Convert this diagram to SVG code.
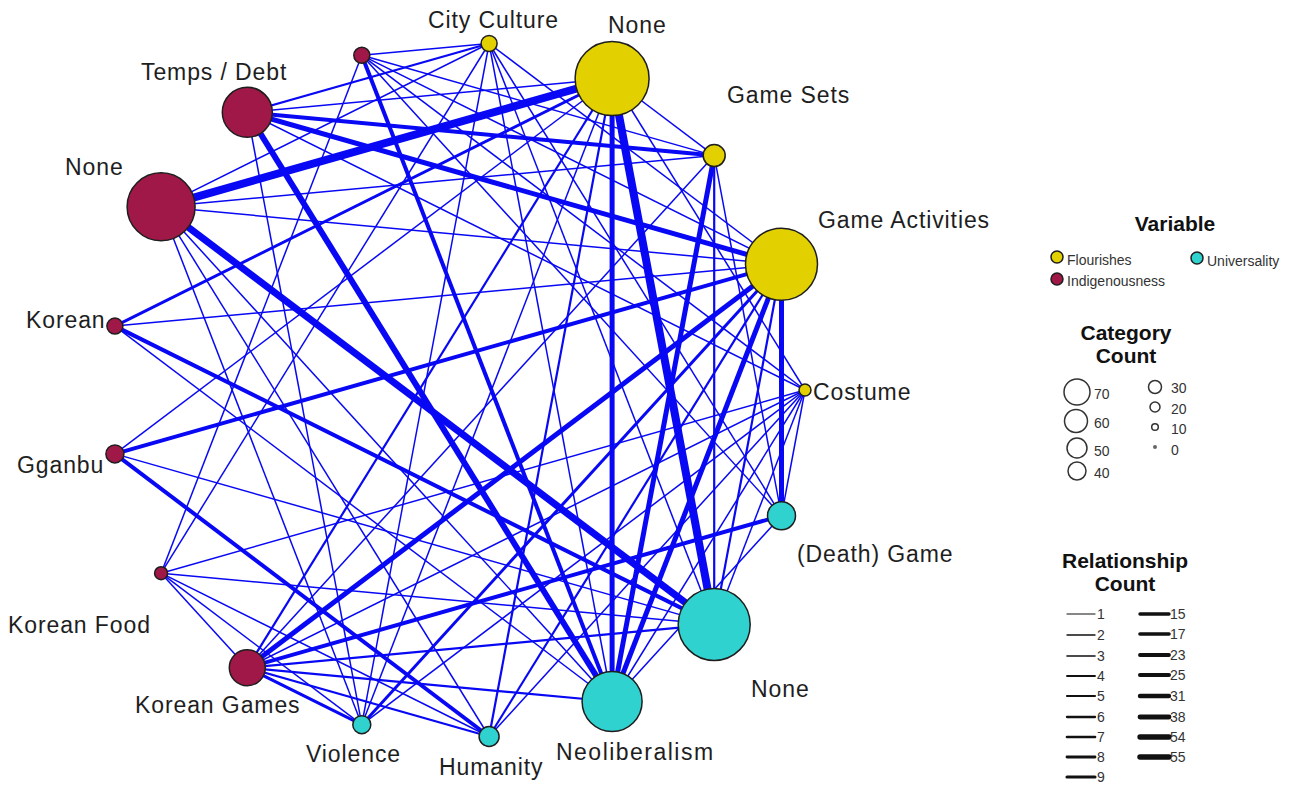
<svg xmlns="http://www.w3.org/2000/svg" width="1298" height="785" viewBox="0 0 1298 785">
<style>
.e{stroke:#0808f4;fill:none;stroke-linecap:butt}
.w1{stroke-width:1.5}.w2{stroke-width:2.2}.w3{stroke-width:3}.w4{stroke-width:4}.w5{stroke-width:5}.w6{stroke-width:6}.w7{stroke-width:7}.w8{stroke-width:8}
.n{stroke:#1e1e1e;stroke-width:1.5}
.y{fill:#e2d000}.c{fill:#a01848}.t{fill:#30d2cf}
.lbl{font-family:"Liberation Sans",Arial,sans-serif;font-size:23px;letter-spacing:0.9px;fill:#1e1e1e}
.lt{font-family:"Liberation Sans",Arial,sans-serif;font-size:21px;font-weight:bold;text-anchor:middle;fill:#111}
.lg{font-family:"Liberation Sans",Arial,sans-serif;font-size:14px;fill:#333}
.lc{fill:#fff;stroke:#333;stroke-width:1.5}
.ll{stroke:#111;stroke-linecap:round}
</style>
<rect width="1298" height="785" fill="#fff"/>
<g id="connectors">
<line class="e w8" x1="161.1" y1="206.8" x2="612.1" y2="78.5"/>
<line class="e w7" x1="161.1" y1="206.8" x2="714.2" y2="624.4"/>
<line class="e w8" x1="612.1" y1="78.5" x2="714.2" y2="624.4"/>
<line class="e w6" x1="247.3" y1="112.3" x2="612.1" y2="701.5"/>
<line class="e w5" x1="612.1" y1="78.5" x2="612.1" y2="701.5"/>
<line class="e w5" x1="714.2" y1="155.6" x2="612.1" y2="701.5"/>
<line class="e w5" x1="781.5" y1="264.3" x2="781.5" y2="515.7"/>
<line class="e w5" x1="781.5" y1="264.3" x2="247.3" y2="667.7"/>
<line class="e w5" x1="781.5" y1="264.3" x2="612.1" y2="701.5"/>
<line class="e w5" x1="781.5" y1="264.3" x2="247.3" y2="112.3"/>
<line class="e w4" x1="247.3" y1="112.3" x2="714.2" y2="155.6"/>
<line class="e w4" x1="247.3" y1="667.7" x2="781.5" y2="515.7"/>
<line class="e w4" x1="114.9" y1="453.9" x2="781.5" y2="264.3"/>
<line class="e w4" x1="114.9" y1="453.9" x2="489.1" y2="736.5"/>
<line class="e w4" x1="114.9" y1="326.1" x2="714.2" y2="624.4"/>
<line class="e w4" x1="361.8" y1="55.3" x2="612.1" y2="701.5"/>
<line class="e w3" x1="114.9" y1="326.1" x2="612.1" y2="78.5"/>
<line class="e w3" x1="781.5" y1="264.3" x2="361.8" y2="724.7"/>
<line class="e w2" x1="781.5" y1="264.3" x2="489.1" y2="736.5"/>
<line class="e w2" x1="781.5" y1="264.3" x2="714.2" y2="624.4"/>
<line class="e w1" x1="781.5" y1="264.3" x2="114.9" y2="326.1"/>
<line class="e w1" x1="781.5" y1="264.3" x2="161.1" y2="206.8"/>
<line class="e w1" x1="781.5" y1="264.3" x2="361.8" y2="55.3"/>
<line class="e w1" x1="781.5" y1="264.3" x2="489.1" y2="43.5"/>
<line class="e w2" x1="714.2" y1="155.6" x2="714.2" y2="624.4"/>
<line class="e w1" x1="714.2" y1="155.6" x2="781.5" y2="515.7"/>
<line class="e w1" x1="714.2" y1="155.6" x2="247.3" y2="667.7"/>
<line class="e w1" x1="714.2" y1="155.6" x2="361.8" y2="55.3"/>
<line class="e w1" x1="714.2" y1="155.6" x2="161.1" y2="206.8"/>
<line class="e w1" x1="714.2" y1="155.6" x2="612.1" y2="78.5"/>
<line class="e w1" x1="247.3" y1="112.3" x2="612.1" y2="78.5"/>
<line class="e w2" x1="247.3" y1="112.3" x2="489.1" y2="43.5"/>
<line class="e w1" x1="247.3" y1="112.3" x2="805" y2="390"/>
<line class="e w1" x1="247.3" y1="112.3" x2="361.8" y2="724.7"/>
<line class="e w1" x1="489.1" y1="43.5" x2="361.8" y2="55.3"/>
<line class="e w1" x1="489.1" y1="43.5" x2="161.1" y2="206.8"/>
<line class="e w1" x1="489.1" y1="43.5" x2="361.8" y2="724.7"/>
<line class="e w1" x1="489.1" y1="43.5" x2="612.1" y2="701.5"/>
<line class="e w1" x1="489.1" y1="43.5" x2="714.2" y2="624.4"/>
<line class="e w1" x1="489.1" y1="43.5" x2="161.1" y2="573.2"/>
<line class="e w1" x1="489.1" y1="43.5" x2="781.5" y2="515.7"/>
<line class="e w1" x1="361.8" y1="55.3" x2="805" y2="390"/>
<line class="e w1" x1="361.8" y1="55.3" x2="781.5" y2="515.7"/>
<line class="e w1" x1="361.8" y1="55.3" x2="161.1" y2="573.2"/>
<line class="e w1" x1="612.1" y1="78.5" x2="114.9" y2="453.9"/>
<line class="e w2" x1="612.1" y1="78.5" x2="247.3" y2="667.7"/>
<line class="e w2" x1="612.1" y1="78.5" x2="489.1" y2="736.5"/>
<line class="e w1" x1="612.1" y1="78.5" x2="361.8" y2="724.7"/>
<line class="e w1" x1="612.1" y1="78.5" x2="805" y2="390"/>
<line class="e w1" x1="805" y1="390" x2="247.3" y2="667.7"/>
<line class="e w1" x1="805" y1="390" x2="161.1" y2="573.2"/>
<line class="e w1" x1="805" y1="390" x2="714.2" y2="624.4"/>
<line class="e w1" x1="805" y1="390" x2="612.1" y2="701.5"/>
<line class="e w1" x1="805" y1="390" x2="361.8" y2="724.7"/>
<line class="e w1" x1="805" y1="390" x2="781.5" y2="515.7"/>
<line class="e w1" x1="805" y1="390" x2="489.1" y2="736.5"/>
<line class="e w1" x1="781.5" y1="515.7" x2="612.1" y2="701.5"/>
<line class="e w2" x1="714.2" y1="624.4" x2="247.3" y2="667.7"/>
<line class="e w1" x1="714.2" y1="624.4" x2="114.9" y2="453.9"/>
<line class="e w1" x1="714.2" y1="624.4" x2="161.1" y2="573.2"/>
<line class="e w1" x1="612.1" y1="701.5" x2="114.9" y2="326.1"/>
<line class="e w2" x1="612.1" y1="701.5" x2="247.3" y2="667.7"/>
<line class="e w1" x1="612.1" y1="701.5" x2="161.1" y2="206.8"/>
<line class="e w2" x1="489.1" y1="736.5" x2="247.3" y2="667.7"/>
<line class="e w1" x1="489.1" y1="736.5" x2="161.1" y2="573.2"/>
<line class="e w1" x1="489.1" y1="736.5" x2="161.1" y2="206.8"/>
<line class="e w3" x1="361.8" y1="724.7" x2="247.3" y2="667.7"/>
<line class="e w1" x1="361.8" y1="724.7" x2="161.1" y2="573.2"/>
<line class="e w1" x1="361.8" y1="724.7" x2="161.1" y2="206.8"/>
<line class="e w1" x1="161.1" y1="573.2" x2="247.3" y2="667.7"/>
</g>
<g id="node-costume"><circle class="n y" cx="805" cy="390" r="6"/><text class="lbl" x="813" y="400">Costume</text></g>
<g id="node-death-game"><circle class="n t" cx="781.5" cy="515.7" r="14"/><text class="lbl" x="797" y="562">(Death) Game</text></g>
<g id="node-none-universality"><circle class="n t" cx="714.2" cy="624.4" r="36"/><text class="lbl" x="751" y="697">None</text></g>
<g id="node-neoliberalism"><circle class="n t" cx="612.1" cy="701.5" r="30"/><text class="lbl" x="556" y="760" textLength="158" lengthAdjust="spacing">Neoliberalism</text></g>
<g id="node-humanity"><circle class="n t" cx="489.1" cy="736.5" r="10"/><text class="lbl" x="439" y="775">Humanity</text></g>
<g id="node-violence"><circle class="n t" cx="361.8" cy="724.7" r="9"/><text class="lbl" x="306" y="762">Violence</text></g>
<g id="node-korean-games"><circle class="n c" cx="247.3" cy="667.7" r="18"/><text class="lbl" x="135" y="713">Korean Games</text></g>
<g id="node-korean-food"><circle class="n c" cx="161.1" cy="573.2" r="6.5"/><text class="lbl" x="8" y="633">Korean Food</text></g>
<g id="node-gganbu"><circle class="n c" cx="114.9" cy="453.9" r="9"/><text class="lbl" x="17" y="473">Gganbu</text></g>
<g id="node-korean"><circle class="n c" cx="114.9" cy="326.1" r="8"/><text class="lbl" x="26" y="328">Korean</text></g>
<g id="node-none-indigenousness"><circle class="n c" cx="161.1" cy="206.8" r="34"/><text class="lbl" x="65" y="175">None</text></g>
<g id="node-temps-debt"><circle class="n c" cx="247.3" cy="112.3" r="25"/><text class="lbl" x="141" y="80">Temps / Debt</text></g>
<g id="node-unlabeled"><circle class="n c" cx="361.8" cy="55.3" r="8"/></g>
<g id="node-city-culture"><circle class="n y" cx="489.1" cy="43.5" r="8"/><text class="lbl" x="428" y="28">City Culture</text></g>
<g id="node-none-flourishes"><circle class="n y" cx="612.1" cy="78.5" r="37"/><text class="lbl" x="608" y="33">None</text></g>
<g id="node-game-sets"><circle class="n y" cx="714.2" cy="155.6" r="11"/><text class="lbl" x="727" y="103">Game Sets</text></g>
<g id="node-game-activities"><circle class="n y" cx="781.5" cy="264.3" r="36"/><text class="lbl" x="818" y="228">Game Activities</text></g>
<g id="legend-variable">
<text class="lt" x="1175" y="231">Variable</text>
<circle class="n y" cx="1057" cy="257" r="6"/><text class="lg" x="1067" y="265">Flourishes</text>
<circle class="n t" cx="1197" cy="258" r="6"/><text class="lg" x="1207" y="266">Universality</text>
<circle class="n c" cx="1057" cy="279" r="6"/><text class="lg" x="1067" y="286">Indigenousness</text>
</g>
<g id="legend-category">
<text class="lt" x="1126" y="340">Category</text>
<text class="lt" x="1126" y="363">Count</text>
<circle class="lc" cx="1077" cy="392" r="13"/><text class="lg" x="1094" y="399">70</text>
<circle class="lc" cx="1076" cy="421" r="11.5"/><text class="lg" x="1094" y="428">60</text>
<circle class="lc" cx="1077" cy="448" r="10"/><text class="lg" x="1094" y="456">50</text>
<circle class="lc" cx="1077" cy="471" r="9"/><text class="lg" x="1094" y="478">40</text>
<circle class="lc" cx="1155" cy="387" r="6.5"/><text class="lg" x="1171" y="393">30</text>
<circle class="lc" cx="1155" cy="407" r="5"/><text class="lg" x="1171" y="414">20</text>
<circle class="lc" cx="1155" cy="427" r="3.3"/><text class="lg" x="1171" y="434">10</text>
<circle cx="1155" cy="447" r="2" fill="#666"/><text class="lg" x="1171" y="455">0</text>
</g>
<g id="legend-relationship">
<text class="lt" x="1125" y="568">Relationship</text>
<text class="lt" x="1125" y="591">Count</text>
<line class="ll" x1="1067" y1="614" x2="1095" y2="614" stroke-width="1.2"/><text class="lg" x="1097" y="619">1</text>
<line class="ll" x1="1067" y1="635" x2="1095" y2="635" stroke-width="1.4"/><text class="lg" x="1097" y="640">2</text>
<line class="ll" x1="1067" y1="656" x2="1095" y2="656" stroke-width="1.6"/><text class="lg" x="1097" y="661">3</text>
<line class="ll" x1="1067" y1="676" x2="1095" y2="676" stroke-width="1.9"/><text class="lg" x="1097" y="681">4</text>
<line class="ll" x1="1067" y1="696" x2="1095" y2="696" stroke-width="2.1"/><text class="lg" x="1097" y="701">5</text>
<line class="ll" x1="1067" y1="717" x2="1095" y2="717" stroke-width="2.3"/><text class="lg" x="1097" y="722">6</text>
<line class="ll" x1="1067" y1="737" x2="1095" y2="737" stroke-width="2.6"/><text class="lg" x="1097" y="742">7</text>
<line class="ll" x1="1067" y1="757" x2="1095" y2="757" stroke-width="2.8"/><text class="lg" x="1097" y="762">8</text>
<line class="ll" x1="1067" y1="777" x2="1095" y2="777" stroke-width="3.1"/><text class="lg" x="1097" y="782">9</text>
<line class="ll" x1="1140" y1="614" x2="1169" y2="614" stroke-width="3.4"/><text class="lg" x="1170" y="619">15</text>
<line class="ll" x1="1140" y1="634" x2="1169" y2="634" stroke-width="3.6"/><text class="lg" x="1170" y="639">17</text>
<line class="ll" x1="1140" y1="655" x2="1169" y2="655" stroke-width="3.9"/><text class="lg" x="1170" y="660">23</text>
<line class="ll" x1="1140" y1="675" x2="1169" y2="675" stroke-width="4.1"/><text class="lg" x="1170" y="680">25</text>
<line class="ll" x1="1140" y1="696" x2="1169" y2="696" stroke-width="4.4"/><text class="lg" x="1170" y="701">31</text>
<line class="ll" x1="1140" y1="717" x2="1169" y2="717" stroke-width="4.8"/><text class="lg" x="1170" y="722">38</text>
<line class="ll" x1="1140" y1="737" x2="1169" y2="737" stroke-width="5.3"/><text class="lg" x="1170" y="742">54</text>
<line class="ll" x1="1140" y1="757" x2="1169" y2="757" stroke-width="5.5"/><text class="lg" x="1170" y="762">55</text>
</g>
</svg>
